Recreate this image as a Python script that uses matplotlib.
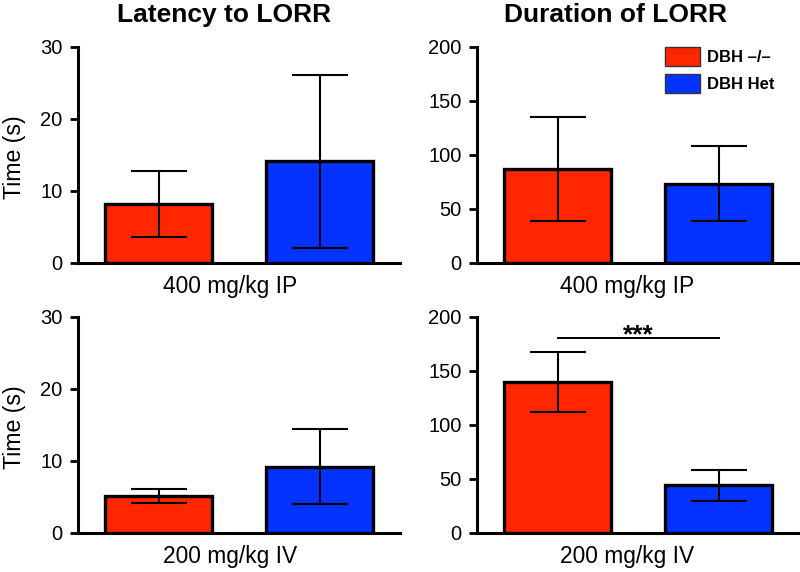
import matplotlib.pyplot as plt
from matplotlib.patches import Patch

plt.rcParams['font.family'] = ['Liberation Sans', 'DejaVu Sans']

# dados
groups = ['DBH –/–', 'DBH Het']
colors = ['#FF2600', '#0433FF']

lat_400 = [8.2, 14.1]
lat_400_err = [4.6, 12.0]
dur_400 = [87, 73.5]
dur_400_err = [48.5, 35]
lat_200 = [5.15, 9.2]
lat_200_err = [1.0, 5.2]
dur_200 = [140, 44]
dur_200_err = [28, 14.5]

titles = ['Latency to LORR', 'Duration of LORR']
doses = ['400 mg/kg IP', '200 mg/kg IV']

fig = plt.figure(figsize=(8, 5.72), dpi=100)

W, H = 800, 572
def add_ax(x0, x1, ytop, ybot):
    return fig.add_axes([x0 / W, 1 - ybot / H, (x1 - x0) / W, (ybot - ytop) / H])

axes = [
    [add_ax(78, 400, 47, 263), add_ax(477, 799, 47, 263)],
    [add_ax(78, 400, 317, 533), add_ax(477, 799, 317, 533)],
]

panels = [
    [(lat_400, lat_400_err, 30, [0, 10, 20, 30]), (dur_400, dur_400_err, 200, [0, 50, 100, 150, 200])],
    [(lat_200, lat_200_err, 30, [0, 10, 20, 30]), (dur_200, dur_200_err, 200, [0, 50, 100, 150, 200])],
]

x = [0, 1]
for r in range(2):
    for c in range(2):
        ax = axes[r][c]
        vals, errs, ymax, ticks = panels[r][c]
        ax.bar(x, vals, width=0.67, color=colors, edgecolor='black', linewidth=2.4, zorder=2)
        ax.errorbar(x, vals, yerr=errs, fmt='none', ecolor='black', elinewidth=1.5,
                    capsize=20, capthick=1.5, zorder=3)
        ax.set_xlim(-0.5, 1.5)
        ax.set_ylim(0, ymax)
        ax.set_yticks(ticks)
        ax.set_xticks([])
        for s in ['top', 'right']:
            ax.spines[s].set_visible(False)
        for s in ['left', 'bottom']:
            ax.spines[s].set_linewidth(2.2)
        ax.tick_params(axis='y', length=6, width=2, labelsize=14.5, pad=5)
        if c == 0:
            fig.text(14 / W, 1 - ((157 if r == 0 else 427)) / H, 'Time (s)', rotation=90,
                     fontsize=16.7, ha='center', va='center')

for c, cx in enumerate([224, 615]):
    fig.text(cx / W, 1 - 15 / H, titles[c], fontsize=19, fontweight='bold', ha='center', va='center')

for c, cx in enumerate([230, 627]):
    fig.text(cx / W, 1 - 286 / H, doses[0], fontsize=16.4, ha='center', va='center')
    fig.text(cx / W, 1 - 557 / H, doses[1], fontsize=16.4, ha='center', va='center')

# significância
ax = axes[1][1]
ax.plot([0, 1], [180.8, 180.8], color='black', linewidth=1.4)
ax.text(0.5, 177, '***', ha='center', va='baseline', fontsize=19, fontweight='bold')

# legenda
handles = [Patch(facecolor=colors[i], edgecolor='#333333', linewidth=1, label=groups[i]) for i in range(2)]
fig.legend(handles=handles, loc='upper left', bbox_to_anchor=(665 / W, 1 - 47 / H),
           bbox_transform=fig.transFigure, frameon=False, borderpad=0, borderaxespad=0,
           handlelength=2.1, handleheight=1.4, labelspacing=0.45, handletextpad=0.4,
           prop={'size': 12, 'weight': 'bold'})

fig.savefig('out.png', dpi=100)
